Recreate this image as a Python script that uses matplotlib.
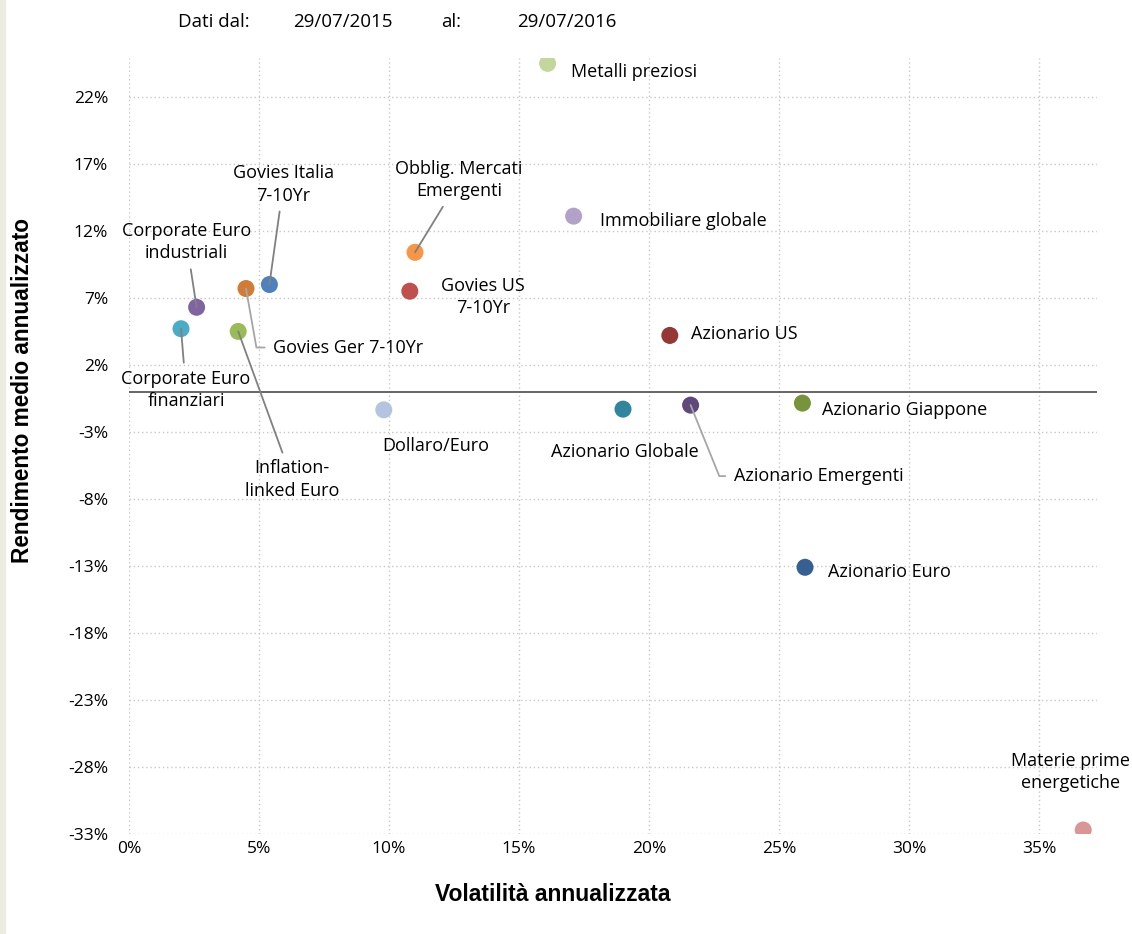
import matplotlib.pyplot as plt
from matplotlib.ticker import PercentFormatter, MultipleLocator
from matplotlib.patches import Rectangle

# dati (volatilita e rendimento annualizzati)
asset_names = [
    'Metalli preziosi', 'Immobiliare globale', 'Obblig. Mercati\nEmergenti',
    'Govies US\n7-10Yr', 'Govies Italia\n7-10Yr', 'Govies Ger 7-10Yr',
    'Corporate Euro\nindustriali', 'Corporate Euro\nfinanziari',
    'Inflation-\nlinked Euro', 'Dollaro/Euro', 'Azionario US',
    'Azionario Globale', 'Azionario Emergenti', 'Azionario Giappone',
    'Azionario Euro', 'Materie prime\nenergetiche',
]
volatility = [0.161, 0.171, 0.110, 0.108, 0.054, 0.045, 0.026, 0.020,
              0.042, 0.098, 0.208, 0.190, 0.216, 0.259, 0.260, 0.367]
returns = [0.245, 0.131, 0.104, 0.075, 0.080, 0.077, 0.063, 0.047,
           0.045, -0.0135, 0.042, -0.013, -0.010, -0.0085, -0.131, -0.327]
colors = ['#c3d69b', '#b3a2c7', '#f79646', '#c0504d', '#4f81bd', '#d07c38',
          '#8064a2', '#4bacc6', '#9bbb59', '#b3c3e0', '#953735', '#31859c',
          '#60497a', '#77933c', '#376092', '#d99694']
y_ticks = [-0.33, -0.28, -0.23, -0.18, -0.13, -0.08, -0.03, 0.02, 0.07, 0.12, 0.17, 0.22]

# posizione etichette: (dx, dy) in pixel, allineamento, linea guida
label_style = [
    (23, -9, 'left', None), (26, -5, 'left', None), (44, 72, 'center', 'line'),
    (73, -6, 'center', None), (14, 100, 'center', 'line'), (27, -59, 'left', 100),
    (-10, 65, 'center', 'line'), (5, -61, 'center', 'line'), (54, -148, 'center', 'line'),
    (52, -36, 'center', None), (21, 1, 'left', None), (2, -43, 'center', None),
    (43, -71, 'left', 112), (20, -7, 'left', None), (23, -5, 'left', None),
    (-13, 58, 'center', None),
]

plt.rcParams['font.family'] = ['Open Sans', 'DejaVu Sans']
plt.rcParams['axes.unicode_minus'] = False
fig = plt.figure(figsize=(11.32, 9.34), dpi=100)
fig.patches.append(Rectangle((0, 0), 5 / 1132, 1, transform=fig.transFigure,
                             color='#eeebe0', zorder=0))
ax = fig.add_axes([129 / 1132, 1 - 834 / 934, 968 / 1132, 776 / 934])

ax.scatter(volatility, returns, s=150, c=colors, zorder=3, linewidths=0)

for name, x, y, (dx, dy, ha, lead) in zip(asset_names, volatility, returns, label_style):
    arrow = None
    if lead == 'line':
        arrow = dict(arrowstyle='-', color='#808080', lw=1.3, shrinkA=3, shrinkB=0)
    elif lead is not None:
        arrow = dict(arrowstyle='-', color='#a6a6a6', lw=1.3, shrinkA=4, shrinkB=0,
                     connectionstyle=f'angle,angleA=0,angleB={lead},rad=0')
    ax.annotate(name, (x, y), xytext=(dx, dy), textcoords='offset pixels',
                ha=ha, va='center', fontsize=13, color='#000000',
                linespacing=1.3, arrowprops=arrow, zorder=4)

ax.axhline(0, color='#595959', lw=1.3, zorder=2)

ax.set_xlim(0, 0.3723)
ax.set_ylim(-0.33, 0.249)
ax.xaxis.set_major_locator(MultipleLocator(0.05))
ax.set_yticks(y_ticks)
ax.xaxis.set_major_formatter(PercentFormatter(xmax=1, decimals=0))
ax.yaxis.set_major_formatter(PercentFormatter(xmax=1, decimals=0))
ax.tick_params(axis='both', length=0, labelsize=12.5)
ax.tick_params(axis='x', pad=5)
ax.tick_params(axis='y', pad=15)
ax.grid(True, color='#c8c8c8', linestyle=(0, (1, 2)), lw=1)
for s in ax.spines.values():
    s.set_visible(False)

ax.set_xlabel('Volatilità annualizzata', fontsize=16.5, fontweight='bold',
              family='Liberation Sans')
ax.xaxis.set_label_coords(0.4375, -0.063)
ax.set_ylabel('Rendimento medio annualizzato', fontsize=16.3, fontweight='bold',
              family='Liberation Sans')
ax.yaxis.set_label_coords(-0.0985, 0.572)

fig.text(178 / 1132, 1 - 22 / 934, 'Dati dal:', fontsize=13.5, va='center')
fig.text(293 / 1132, 1 - 22 / 934, '29/07/2015', fontsize=13.5, va='center')
fig.text(441 / 1132, 1 - 22 / 934, 'al:', fontsize=13.5, va='center')
fig.text(517 / 1132, 1 - 22 / 934, '29/07/2016', fontsize=13.5, va='center')

plt.savefig('out.png', dpi=100)
